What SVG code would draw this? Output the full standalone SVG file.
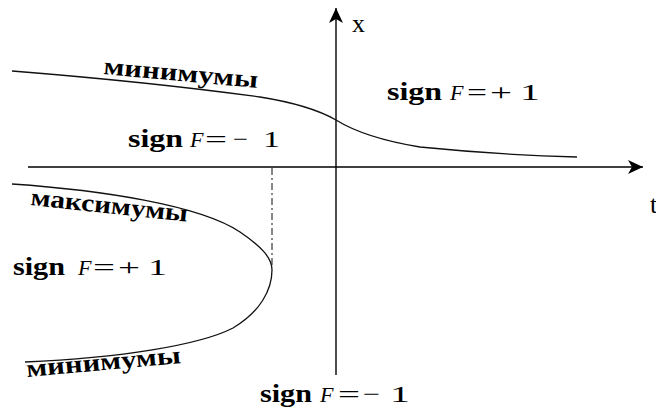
<svg xmlns="http://www.w3.org/2000/svg" width="656" height="410" viewBox="0 0 656 410">
<style>
  .ax{stroke:#000;stroke-width:1.4;fill:none}
  .cv{stroke:#111;stroke-width:1.3;fill:none}
  .dd{stroke:#111;stroke-width:1;fill:none;stroke-dasharray:7 3 2 3}
  text{font-family:"Liberation Serif","Times New Roman",serif;fill:#000}
  .b{font-weight:bold;font-size:26px}
  .i{font-style:italic;font-size:22px}
  .m{font-size:24px}
  .lb{font-weight:bold;font-size:25px}
  .ax-l{font-size:26px}
</style>
<defs>
  <marker id="arr" markerUnits="userSpaceOnUse" markerWidth="18" markerHeight="16" refX="16" refY="8" orient="auto" viewBox="0 0 18 16">
    <path d="M16,8 L1,1 L5,8 L1,15 Z" fill="#000"/>
  </marker>
</defs>
<g id="connectors">
  <line id="t-axis" class="ax" x1="28" y1="167" x2="643" y2="167" marker-end="url(#arr)"/>
  <line id="x-axis" class="ax" x1="336" y1="375" x2="336" y2="8" marker-end="url(#arr)"/>
  <path id="upper-curve" class="cv" d="M12,71 Q150,82 260,97 Q310,105 336,120 Q365,138 420,147 Q500,155 577,157"/>
  <path id="lower-curve" class="cv" d="M12,184 C100,190 200,205 240,232 C262,247 272,258 272,270 C272,290 260,312 233,328 C200,345 120,358 25,362"/>
  <line id="dash-line" class="dd" x1="272" y1="168" x2="272" y2="266"/>
</g>
<g id="axis-label-x"><text class="ax-l" x="352" y="32">x</text></g>
<g id="axis-label-t"><text class="ax-l" x="650" y="213">t</text></g>
<g id="label-min-top"><text class="lb" x="103" y="74" textLength="155" lengthAdjust="spacingAndGlyphs" transform="rotate(5.2 103 74)">минимумы</text></g>
<g id="label-max"><text class="lb" x="30" y="205" textLength="158" lengthAdjust="spacingAndGlyphs" transform="rotate(6.1 30 205)">максимумы</text></g>
<g id="label-min-bottom"><text class="lb" x="27" y="377" textLength="155" lengthAdjust="spacingAndGlyphs" transform="rotate(-5.2 27 377)">минимумы</text></g>
<g id="sign-upper-left"><text y="147"><tspan class="b" x="128" textLength="55" lengthAdjust="spacingAndGlyphs">sign</tspan><tspan class="i" x="190">F</tspan><tspan class="m" x="205" textLength="22" lengthAdjust="spacingAndGlyphs">=</tspan><tspan class="m" x="233" textLength="15" lengthAdjust="spacingAndGlyphs">−</tspan><tspan class="m" x="263" textLength="17" lengthAdjust="spacingAndGlyphs">1</tspan></text></g>
<g id="sign-upper-right"><text y="100"><tspan class="b" x="387" textLength="55" lengthAdjust="spacingAndGlyphs">sign</tspan><tspan class="i" x="450">F</tspan><tspan class="m" x="467" textLength="20" lengthAdjust="spacingAndGlyphs">=</tspan><tspan class="m" x="490" textLength="22" lengthAdjust="spacingAndGlyphs">+</tspan><tspan class="m" x="520" textLength="20" lengthAdjust="spacingAndGlyphs">1</tspan></text></g>
<g id="sign-mid-left"><text y="275"><tspan class="b" x="13" textLength="52" lengthAdjust="spacingAndGlyphs">sign</tspan><tspan class="i" x="78">F</tspan><tspan class="m" x="93" textLength="22" lengthAdjust="spacingAndGlyphs">=</tspan><tspan class="m" x="118" textLength="22" lengthAdjust="spacingAndGlyphs">+</tspan><tspan class="m" x="148" textLength="19" lengthAdjust="spacingAndGlyphs">1</tspan></text></g>
<g id="sign-bottom"><text y="402"><tspan class="b" x="260" textLength="52" lengthAdjust="spacingAndGlyphs">sign</tspan><tspan class="i" x="320">F</tspan><tspan class="m" x="338" textLength="22" lengthAdjust="spacingAndGlyphs">=</tspan><tspan class="m" x="363" textLength="17" lengthAdjust="spacingAndGlyphs">−</tspan><tspan class="m" x="390" textLength="20" lengthAdjust="spacingAndGlyphs">1</tspan></text></g>
</svg>
